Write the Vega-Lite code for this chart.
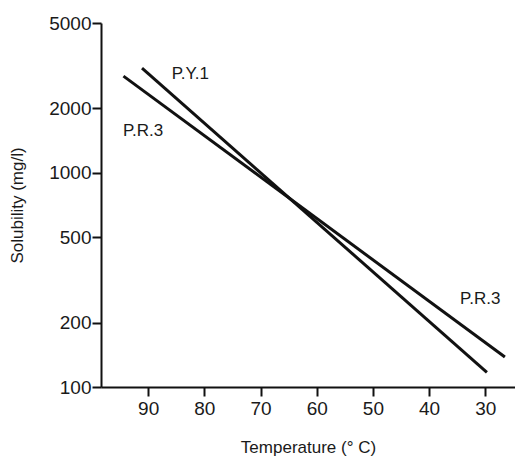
{
  "$schema": "https://vega.github.io/schema/vega-lite/v6.json",
  "width": 414,
  "height": 364,
  "autosize": {"type": "none"},
  "padding": {"left": 101, "top": 23, "right": 0, "bottom": 72},
  "background": "white",
  "config": {
    "view": {"stroke": null},
    "font": "Liberation Sans",
    "axis": {
      "grid": false,
      "domainColor": "#111",
      "domainWidth": 2,
      "tickColor": "#111",
      "tickWidth": 2,
      "tickSize": 9,
      "labelFont": "Liberation Sans",
      "labelFontSize": 19,
      "labelColor": "#1a1a1a",
      "titleFont": "Liberation Sans",
      "titleFontSize": 17,
      "titleFontWeight": "normal",
      "titleColor": "#1a1a1a"
    }
  },
  "datasets": {
    "lines": [
      {"series": "P.Y.1", "T": 91.1, "S": 3080},
      {"series": "P.Y.1", "T": 29.7, "S": 117},
      {"series": "P.R.3", "T": 94.4, "S": 2826},
      {"series": "P.R.3", "T": 26.5, "S": 138}
    ],
    "labels": [
      {"label": "P.Y.1", "T": 82.5, "S": 2884},
      {"label": "P.R.3", "T": 90.9, "S": 1570},
      {"label": "P.R.3", "T": 30.9, "S": 257}
    ]
  },
  "layer": [
    {
      "data": {"name": "lines"},
      "mark": {"type": "line", "color": "#111", "strokeWidth": 3},
      "encoding": {
        "x": {
          "field": "T", "type": "quantitative",
          "scale": {"domain": [24.7, 98.4], "reverse": true, "nice": false, "zero": false},
          "axis": {"values": [90, 80, 70, 60, 50, 40, 30], "title": "Temperature (° C)", "labelPadding": 3, "titlePadding": 21}
        },
        "y": {
          "field": "S", "type": "quantitative",
          "scale": {"type": "log", "domain": [100, 5000], "nice": false},
          "axis": {"values": [100, 200, 500, 1000, 2000, 5000], "format": "d", "title": "Solubility (mg/l)", "labelPadding": 1, "titlePadding": 22}
        },
        "detail": {"field": "series"}
      }
    },
    {
      "data": {"name": "labels"},
      "mark": {"type": "text", "font": "Liberation Sans", "fontSize": 17, "color": "#1a1a1a", "letterSpacing": -1},
      "encoding": {
        "x": {"field": "T", "type": "quantitative"},
        "y": {"field": "S", "type": "quantitative"},
        "text": {"field": "label"}
      }
    }
  ]
}
